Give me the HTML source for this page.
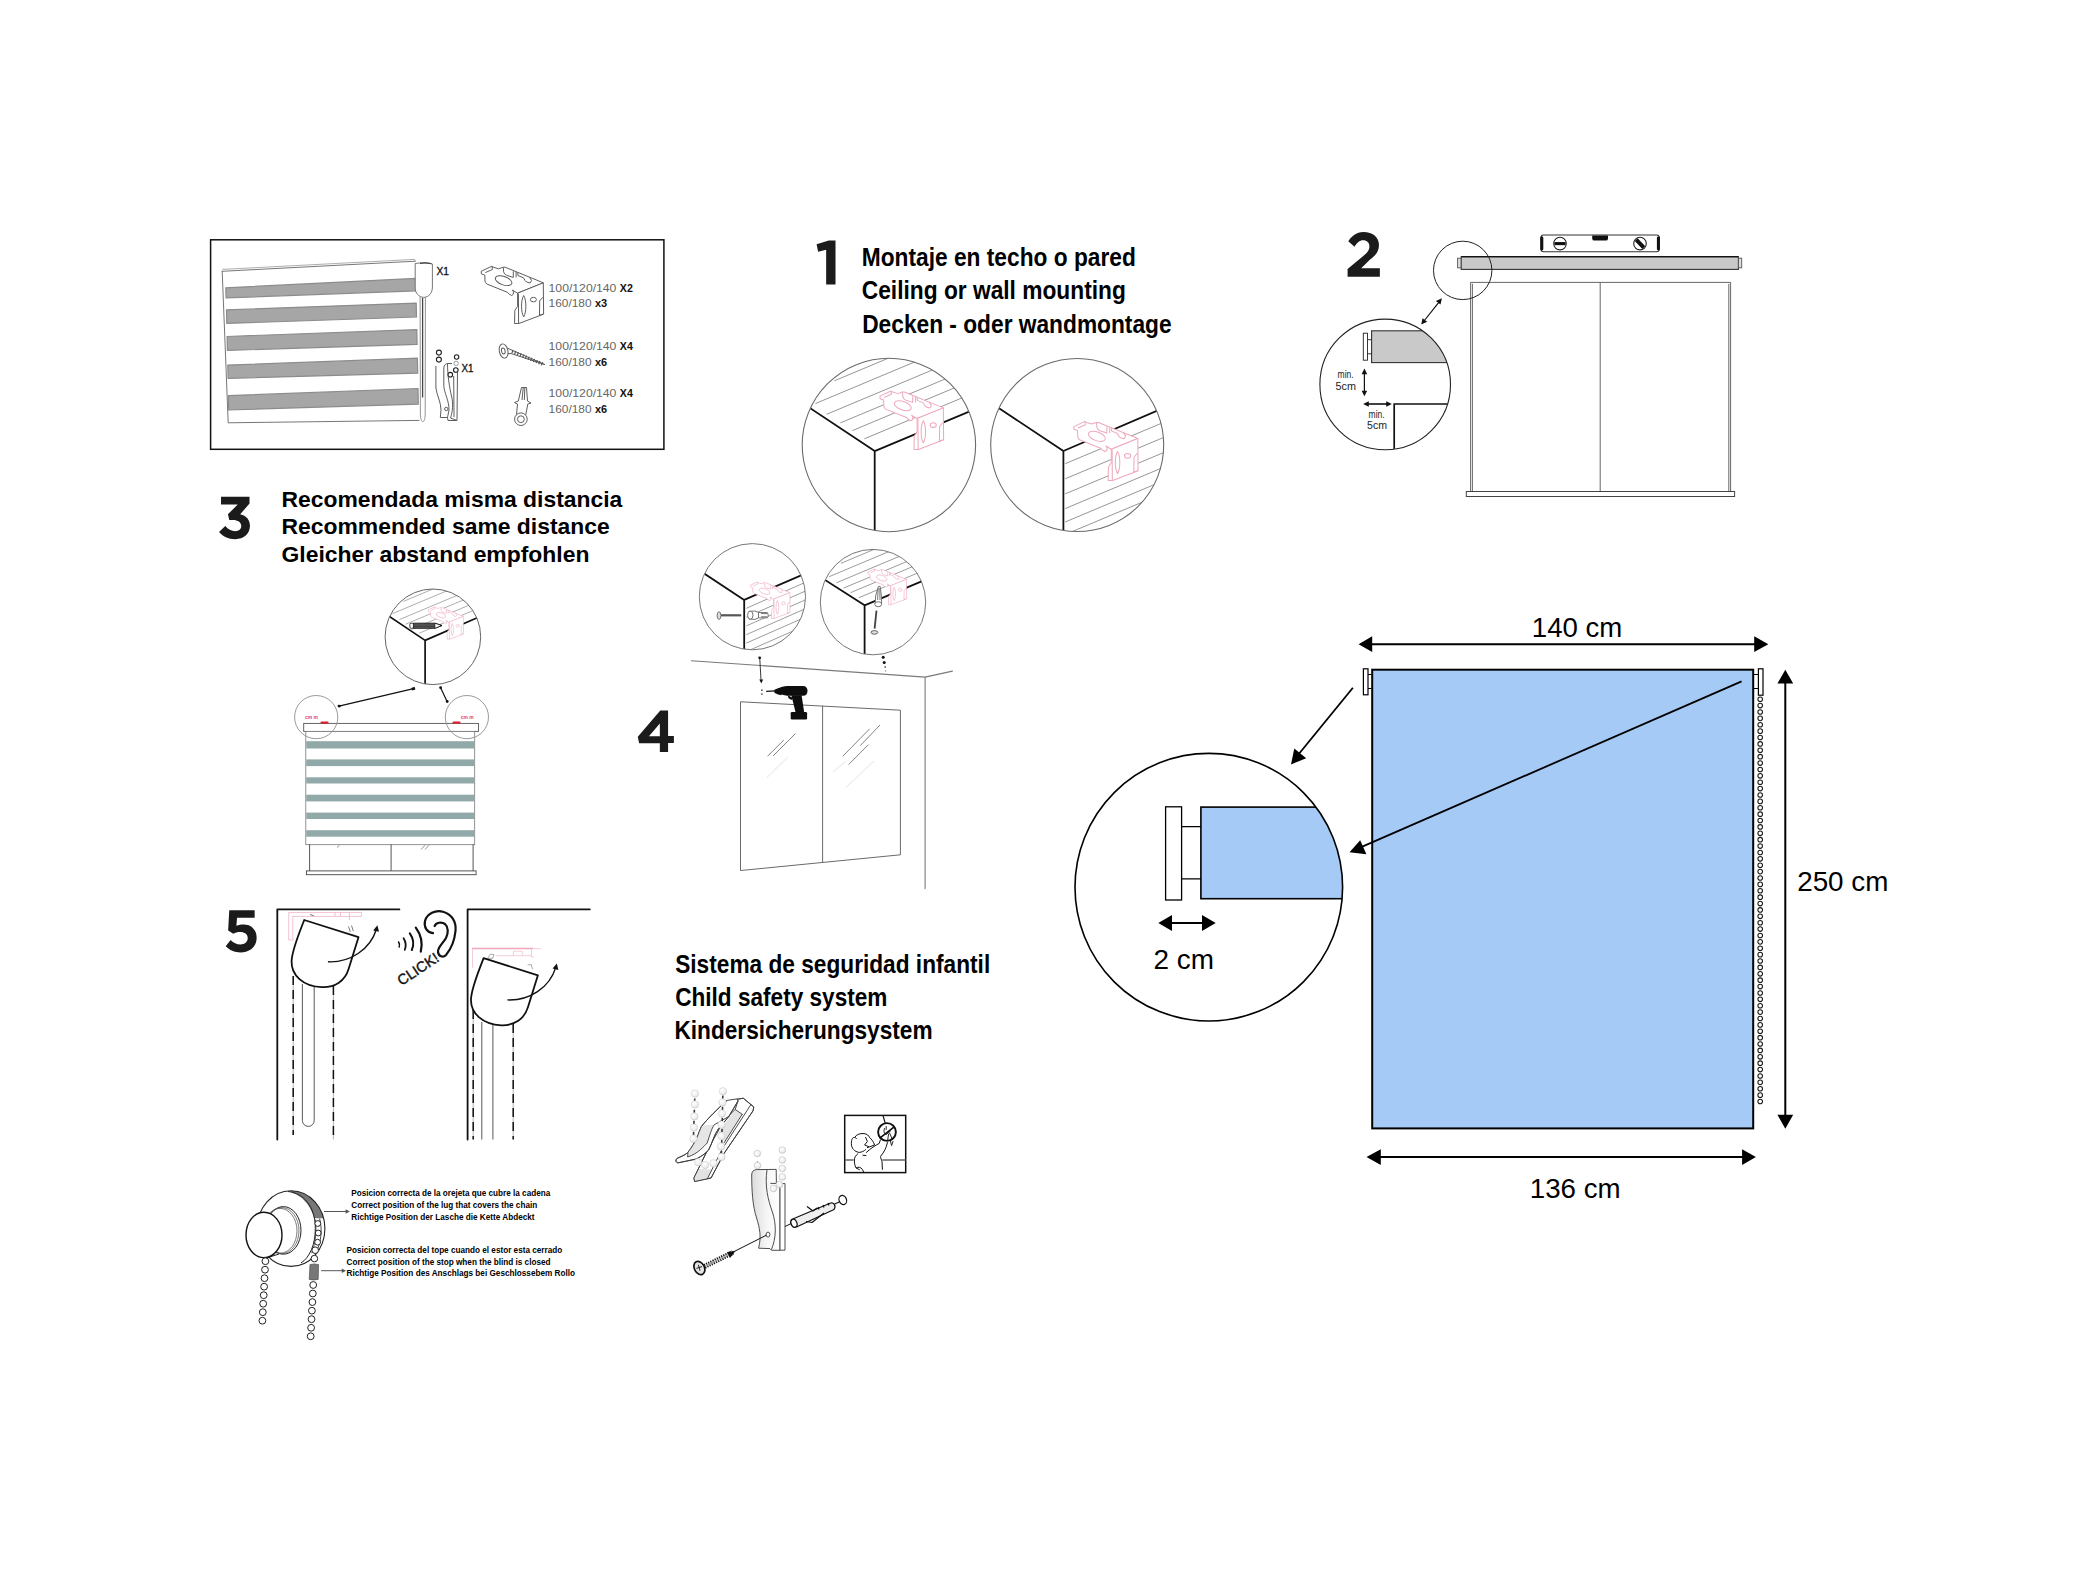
<!DOCTYPE html>
<html><head><meta charset="utf-8"><title>Montaje</title>
<style>
html,body{margin:0;padding:0;background:#fff;}
body{width:2096px;height:1572px;overflow:hidden;font-family:"Liberation Sans",sans-serif;}
svg{display:block}
text{font-family:"Liberation Sans",sans-serif;fill:#000}
.b{font-weight:bold}
.k{fill:none;stroke:#111;stroke-width:1.8;stroke-linecap:round;stroke-linejoin:round}
.ln{fill:none;stroke:#333;stroke-width:1.1;stroke-linecap:round;stroke-linejoin:round}
.lt{fill:none;stroke:#666;stroke-width:0.9;stroke-linecap:round;stroke-linejoin:round}
.h{fill:none;stroke:#8a8a8a;stroke-width:0.9}
.pk{fill:#fff;stroke:#eea9bc;stroke-width:1;stroke-linejoin:round}
.pkn{fill:none;stroke:#eea9bc;stroke-width:1;stroke-linejoin:round}
.gy{fill:#fff;stroke:#555;stroke-width:0.95;stroke-linejoin:round}
.gyn{fill:none;stroke:#555;stroke-width:0.95;stroke-linejoin:round}
.dg{fill:#1b1b1b}
</style></head><body>
<svg width="2096" height="1572" viewBox="0 0 2096 1572">
<rect width="2096" height="1572" fill="#fff"/>

<defs>
<g id="bkP"><path class="pk" d="M-36.4,-21.9L-25.7,-27L-24.7,-26.2L-19.1,-24.4L-14.5,-26L-12.5,-26L25.7,-10.4L0,0L-5.3,-3.1L-4.1,-1.5L-4.3,1L-5.9,2.3L-8.4,1L-10.4,-1L-30.8,-9.2Q-32.4,-10.4 -32.6,-12.2L-32.8,-18.1L-36.2,-19.3Z"/><path class="pk" d="M0,0L25.7,-10.4L26,20.9L1.3,30.3L-3.05,30.3L-2.8,17.3L0,13.2Z"/><path class="pkn" d="M0.8,0.5L1,30 M25.2,4.1L22.1,7.6L21.9,22.1L25.9,20.8 M-32.3,-20.6L-25.2,-23.7L-25.5,-26.6"/><ellipse class="pkn" cx="-14" cy="-12.5" rx="8.7" ry="4.2" transform="rotate(20 -14 -12.5)"/><path class="pkn" d="M-14.3,-25.7L-14,-21.4Q-13.5,-19 -10.9,-17.8L-4.3,-15.8L-4.3,-21.9 M-1.5,-21.4L-1.5,-15.8 M0.25,-20.6L0.25,-17.8L5.9,-15.3Q7.5,-12 8.9,-11.2L12.5,-10.2L14,-12.7L12,-15.8"/><path class="pkn" d="M6.1,2.3C3.2,7 3.2,19 6.1,23.7C9,19 9,7 6.1,2.3Z"/><ellipse class="pkn" cx="15.8" cy="6.4" rx="3" ry="2.3"/></g>
<g id="bkG"><path class="gy" d="M-36.4,-21.9L-25.7,-27L-24.7,-26.2L-19.1,-24.4L-14.5,-26L-12.5,-26L25.7,-10.4L0,0L-5.3,-3.1L-4.1,-1.5L-4.3,1L-5.9,2.3L-8.4,1L-10.4,-1L-30.8,-9.2Q-32.4,-10.4 -32.6,-12.2L-32.8,-18.1L-36.2,-19.3Z"/><path class="gy" d="M0,0L25.7,-10.4L26,20.9L1.3,30.3L-3.05,30.3L-2.8,17.3L0,13.2Z"/><path class="gyn" d="M0.8,0.5L1,30 M25.2,4.1L22.1,7.6L21.9,22.1L25.9,20.8 M-32.3,-20.6L-25.2,-23.7L-25.5,-26.6"/><ellipse class="gyn" cx="-14" cy="-12.5" rx="8.7" ry="4.2" transform="rotate(20 -14 -12.5)"/><path class="gyn" d="M-14.3,-25.7L-14,-21.4Q-13.5,-19 -10.9,-17.8L-4.3,-15.8L-4.3,-21.9 M-1.5,-21.4L-1.5,-15.8 M0.25,-20.6L0.25,-17.8L5.9,-15.3Q7.5,-12 8.9,-11.2L12.5,-10.2L14,-12.7L12,-15.8"/><path class="gyn" d="M6.1,2.3C3.2,7 3.2,19 6.1,23.7C9,19 9,7 6.1,2.3Z"/><ellipse class="gyn" cx="15.8" cy="6.4" rx="3" ry="2.3"/></g>
<clipPath id="cc"><circle cx="1208.8" cy="887.2" r="133.8"/></clipPath>
</defs>
<g id="measure">
<rect x="1372.2" y="669.7" width="381" height="458.7" fill="#a6caf6" stroke="#000" stroke-width="2"/>
<rect x="1363.4" y="668.8" width="4.6" height="26" fill="#fff" stroke="#000" stroke-width="1.2"/>
<path d="M1368 674.5H1371.5M1368 688.5H1371.5" stroke="#000" stroke-width="1.2" fill="none"/>
<rect x="1758.4" y="668.8" width="4.6" height="26.4" fill="#fff" stroke="#000" stroke-width="1.2"/>
<path d="M1754 674.5H1758.4M1754 688.5H1758.4" stroke="#000" stroke-width="1.2" fill="none"/>
<g fill="#fff" stroke="#1a1a1a" stroke-width="1.05">
<circle cx="1760.2" cy="699.20" r="2.3"/>
<circle cx="1760.2" cy="705.59" r="2.3"/>
<circle cx="1760.2" cy="711.97" r="2.3"/>
<circle cx="1760.2" cy="718.36" r="2.3"/>
<circle cx="1760.2" cy="724.74" r="2.3"/>
<circle cx="1760.2" cy="731.13" r="2.3"/>
<circle cx="1760.2" cy="737.52" r="2.3"/>
<circle cx="1760.2" cy="743.90" r="2.3"/>
<circle cx="1760.2" cy="750.29" r="2.3"/>
<circle cx="1760.2" cy="756.67" r="2.3"/>
<circle cx="1760.2" cy="763.06" r="2.3"/>
<circle cx="1760.2" cy="769.45" r="2.3"/>
<circle cx="1760.2" cy="775.83" r="2.3"/>
<circle cx="1760.2" cy="782.22" r="2.3"/>
<circle cx="1760.2" cy="788.60" r="2.3"/>
<circle cx="1760.2" cy="794.99" r="2.3"/>
<circle cx="1760.2" cy="801.38" r="2.3"/>
<circle cx="1760.2" cy="807.76" r="2.3"/>
<circle cx="1760.2" cy="814.15" r="2.3"/>
<circle cx="1760.2" cy="820.53" r="2.3"/>
<circle cx="1760.2" cy="826.92" r="2.3"/>
<circle cx="1760.2" cy="833.31" r="2.3"/>
<circle cx="1760.2" cy="839.69" r="2.3"/>
<circle cx="1760.2" cy="846.08" r="2.3"/>
<circle cx="1760.2" cy="852.46" r="2.3"/>
<circle cx="1760.2" cy="858.85" r="2.3"/>
<circle cx="1760.2" cy="865.24" r="2.3"/>
<circle cx="1760.2" cy="871.62" r="2.3"/>
<circle cx="1760.2" cy="878.01" r="2.3"/>
<circle cx="1760.2" cy="884.39" r="2.3"/>
<circle cx="1760.2" cy="890.78" r="2.3"/>
<circle cx="1760.2" cy="897.17" r="2.3"/>
<circle cx="1760.2" cy="903.55" r="2.3"/>
<circle cx="1760.2" cy="909.94" r="2.3"/>
<circle cx="1760.2" cy="916.32" r="2.3"/>
<circle cx="1760.2" cy="922.71" r="2.3"/>
<circle cx="1760.2" cy="929.10" r="2.3"/>
<circle cx="1760.2" cy="935.48" r="2.3"/>
<circle cx="1760.2" cy="941.87" r="2.3"/>
<circle cx="1760.2" cy="948.25" r="2.3"/>
<circle cx="1760.2" cy="954.64" r="2.3"/>
<circle cx="1760.2" cy="961.03" r="2.3"/>
<circle cx="1760.2" cy="967.41" r="2.3"/>
<circle cx="1760.2" cy="973.80" r="2.3"/>
<circle cx="1760.2" cy="980.18" r="2.3"/>
<circle cx="1760.2" cy="986.57" r="2.3"/>
<circle cx="1760.2" cy="992.96" r="2.3"/>
<circle cx="1760.2" cy="999.34" r="2.3"/>
<circle cx="1760.2" cy="1005.73" r="2.3"/>
<circle cx="1760.2" cy="1012.11" r="2.3"/>
<circle cx="1760.2" cy="1018.50" r="2.3"/>
<circle cx="1760.2" cy="1024.89" r="2.3"/>
<circle cx="1760.2" cy="1031.27" r="2.3"/>
<circle cx="1760.2" cy="1037.66" r="2.3"/>
<circle cx="1760.2" cy="1044.04" r="2.3"/>
<circle cx="1760.2" cy="1050.43" r="2.3"/>
<circle cx="1760.2" cy="1056.82" r="2.3"/>
<circle cx="1760.2" cy="1063.20" r="2.3"/>
<circle cx="1760.2" cy="1069.59" r="2.3"/>
<circle cx="1760.2" cy="1075.97" r="2.3"/>
<circle cx="1760.2" cy="1082.36" r="2.3"/>
<circle cx="1760.2" cy="1088.75" r="2.3"/>
<circle cx="1760.2" cy="1095.13" r="2.3"/>
<circle cx="1760.2" cy="1101.52" r="2.3"/>
</g>
<path d="M1371 644.2H1756" stroke="#000" stroke-width="2"/>
<path d="M1358.6 644.2L1372.2 636.3V652.1Z M1768.3 644.2L1754.2 636.3V652.1Z" fill="#000"/>
<path d="M1379 1157.1H1744" stroke="#000" stroke-width="2"/>
<path d="M1366.5 1157.1L1380.8 1149.2V1165Z M1755.9 1157.1L1742.1 1149.2V1165Z" fill="#000"/>
<path d="M1785.3 682V1116" stroke="#000" stroke-width="2"/>
<path d="M1785.3 669.7L1777.4 683.5H1793.2Z M1785.3 1128.7L1777.4 1114.8H1793.2Z" fill="#000"/>
<circle cx="1208.8" cy="887.2" r="133.8" fill="#fff"/>
<rect x="1200.9" y="807.1" width="200" height="91.6" fill="#a6caf6" stroke="#000" stroke-width="1.6" clip-path="url(#cc)"/>
<circle cx="1208.8" cy="887.2" r="133.8" fill="none" stroke="#000" stroke-width="1.6"/>
<rect x="1165.6" y="806.8" width="16" height="93.2" fill="#fff" stroke="#000" stroke-width="1.3"/>
<path d="M1181.6 826.6H1200.9M1181.6 878.8H1200.9" stroke="#000" stroke-width="1.3" fill="none"/>
<path d="M1170 923H1204" stroke="#000" stroke-width="2"/>
<path d="M1158.3 923L1172 915.1V930.9Z M1215.7 923L1202 915.1V930.9Z" fill="#000"/>
<text x="1153.6" y="968.8" font-size="27.9">2 cm</text>
<path d="M1352.9 687.8L1298 755" stroke="#000" stroke-width="1.8"/>
<path d="M1291 764.4L1294.3 748.6L1306.2 758.3Z" fill="#000"/>
<path d="M1741.6 681.4L1360 847.6" stroke="#000" stroke-width="1.8"/>
<path d="M1349.5 852.3L1360.2 840.2L1366.4 854.2Z" fill="#000"/>
<text x="1531.8" y="637" font-size="27.6">140 cm</text>
<text x="1797.2" y="891.4" font-size="27.8">250 cm</text>
<text x="1529.8" y="1198.4" font-size="27.7">136 cm</text>
</g>
<g class="b" font-size="25.4">
<text x="861.8" y="266" textLength="274" lengthAdjust="spacingAndGlyphs">Montaje en techo o pared</text>
<text x="861.8" y="299" textLength="264" lengthAdjust="spacingAndGlyphs">Ceiling or wall mounting</text>
<text x="862.2" y="332.8" textLength="309.4" lengthAdjust="spacingAndGlyphs">Decken - oder wandmontage</text>
</g>
<g class="b" font-size="21.2">
<text x="281.5" y="506.9" textLength="340.8" lengthAdjust="spacingAndGlyphs">Recomendada misma distancia</text>
<text x="281.5" y="534.4" textLength="328.2" lengthAdjust="spacingAndGlyphs">Recommended same distance</text>
<text x="281.5" y="561.5" textLength="307.9" lengthAdjust="spacingAndGlyphs">Gleicher abstand empfohlen</text>
</g>
<g class="b" font-size="25.4">
<text x="675.2" y="972.9" textLength="315" lengthAdjust="spacingAndGlyphs">Sistema de seguridad infantil</text>
<text x="675.2" y="1005.5" textLength="212.2" lengthAdjust="spacingAndGlyphs">Child safety system</text>
<text x="674.4" y="1038.5" textLength="258.2" lengthAdjust="spacingAndGlyphs">Kindersicherungsystem</text>
</g>
<g class="b" font-size="9.3">
<text x="351.3" y="1196.3" textLength="198.9" lengthAdjust="spacingAndGlyphs">Posicion correcta de la orejeta que cubre la cadena</text>
<text x="351.3" y="1208.1" textLength="185.9" lengthAdjust="spacingAndGlyphs">Correct position of the lug that covers the chain</text>
<text x="351.3" y="1219.7" textLength="183.2" lengthAdjust="spacingAndGlyphs">Richtige Position der Lasche die Kette Abdeckt</text>
<text x="346.5" y="1252.9" textLength="215.7" lengthAdjust="spacingAndGlyphs">Posicion correcta del tope cuando el estor esta cerrado</text>
<text x="346.5" y="1264.6" textLength="204" lengthAdjust="spacingAndGlyphs">Correct position of the stop when the blind is closed</text>
<text x="346.5" y="1276.4" textLength="228.5" lengthAdjust="spacingAndGlyphs">Richtige Position des Anschlags bei Geschlossebem Rollo</text>
</g>
<g class="dg">
<path transform="translate(795,228) scale(0.04452)" d="M485,365L760,280L910,280L910,1270L700,1270L700,490L520,535Z"/>
<path transform="translate(1330,220) scale(0.04452)" d="M410,480C470,380 590,270 750,270C960,270 1100,390 1100,560C1100,700 1030,790 900,890L700,1085L1120,1085L1120,1275L395,1275L395,1100L760,800C850,720 885,670 885,590C885,510 830,455 745,455C660,455 610,510 550,600Z"/>
<path transform="translate(205,480) scale(0.04452)" d="M360,375L1000,375L1000,530L790,770C930,800 1010,900 1010,1030C1010,1210 870,1330 680,1330C520,1330 400,1270 315,1170L455,1035C520,1110 590,1150 680,1150C760,1150 815,1105 815,1035C815,950 740,900 620,900L545,900L515,770L735,550L360,550Z"/>
<path transform="translate(620,695) scale(0.04452)" fill-rule="evenodd" d="M905,350L1080,350L1080,920L1210,920L1210,1080L1080,1080L1080,1280L895,1280L895,1085L430,1085L400,935ZM895,640L895,925L650,925Z"/>
<path transform="translate(205,895) scale(0.04452)" d="M545,340L1115,340L1115,510L720,510L705,690C760,670 810,660 870,660C1040,660 1160,780 1160,960C1160,1160 1010,1290 800,1290C660,1290 550,1235 465,1150L575,1010C640,1075 710,1110 795,1110C890,1110 960,1055 960,965C960,880 890,830 790,830C730,830 680,845 635,870L520,800Z"/>
</g>
<g id="parts">
<rect x="210.6" y="239.8" width="453.3" height="209.5" fill="none" stroke="#111" stroke-width="1.5"/>
<path class="lt" d="M222.2,271.3L415.4,261.2M222.2,271.3L228.2,422.8L419,420.4"/>
<path d="M222.4,269.4L414.5,259.4L415.4,261" stroke="#999" stroke-width="0.8" fill="none"/>
<path d="M225.8,287.8L415.6,278.3L415.9,290.8L226.1,297.9Z" fill="#a6a6a6" stroke="#8c8c8c" stroke-width="1.2"/>
<path d="M226.5,309.8L416.2,303.1L416.5,317.0L226.8,323.4Z" fill="#a6a6a6" stroke="#8c8c8c" stroke-width="1.2"/>
<path d="M227.1,336.5L416.8,329.6L417.1,344.4L227.4,350.4Z" fill="#a6a6a6" stroke="#8c8c8c" stroke-width="1.2"/>
<path d="M227.8,365.1L417.4,358.2L417.7,373.1L228.1,378.4Z" fill="#a6a6a6" stroke="#8c8c8c" stroke-width="1.2"/>
<path d="M228.4,395.6L418.0,388.5L418.3,404.1L228.7,410.0Z" fill="#a6a6a6" stroke="#8c8c8c" stroke-width="1.2"/>
<path class="gy" style="stroke:#777;stroke-width:0.8" d="M420.1,297L420.4,414C420.5,419 421.5,421.6 422.8,421.6C424.2,421.6 425.1,419 425.2,414L425.4,297.2"/>
<path d="M422.6,298V397.5" stroke="#444" stroke-width="1.3" fill="none"/>
<path class="gy" style="stroke:#666;stroke-width:0.9" d="M415.2,263.5C420,262.6 428,262.6 432.4,264L432.4,287C432.4,293 429,297 423.8,297.4C418.6,297 415.2,293 415.2,288Z"/>
<path d="M420,263.4C424,262.6 428,262.8 431.4,263.8" stroke="#444" stroke-width="1.1" fill="none"/>
<text x="436.6" y="275.4" font-size="11.8" textLength="12.4" lengthAdjust="spacingAndGlyphs" style="fill:#111;stroke:#111;stroke-width:0.35">X1</text>
<g class="gyn">
<g style="stroke:#222;stroke-width:1.1"><circle cx="438.9" cy="352.6" r="2.5"/><circle cx="438.9" cy="359.6" r="2.5"/>
<circle cx="456.6" cy="357" r="2.2"/><circle cx="455.8" cy="370" r="2.3"/><circle cx="450.3" cy="374.7" r="2.3"/></g><circle cx="456.1" cy="363.4" r="2.2" style="stroke:#999"/>
<path d="M435.9,366L435.9,388C437,396 441,402 441,410L440.3,417.5L447.5,417.5L449,410C449,400 444.5,394 443.8,386L443.8,368C444,365 446,363.5 447.5,363.5"/>
<path d="M447.5,363.5L452,363.5M447.5,363.5C447.5,375 449.5,388 451.5,396C453.5,404 452.5,412 450.5,418L457,420.5L457.5,371"/>
<path d="M453.7,376L454,417M447.5,417.5L448,420.5L456.5,420.5"/>
<circle cx="446.3" cy="409" r="1.7"/>
</g>
<text x="461.5" y="372" font-size="11.8" textLength="12" lengthAdjust="spacingAndGlyphs" style="fill:#111;stroke:#111;stroke-width:0.35">X1</text>
<use href="#bkG" transform="translate(517.6,293.2)"/>
<g class="gyn">
<ellipse cx="503.6" cy="351" rx="4.3" ry="7.2" transform="rotate(-12 503.6 351)"/>
<ellipse cx="503.3" cy="351" rx="1.8" ry="3" transform="rotate(-12 503.3 351)"/>
<path d="M507.5,348.2L512,350.2L545,364.6L511,353.5L507.8,353.8"/>
</g>
<path d="M512,351.3L543,364.2" stroke="#555" stroke-width="3.4" stroke-dasharray="1.2 1.7" fill="none"/>
<g class="gyn">
<circle cx="520.9" cy="419.2" r="6.3"/><circle cx="520.9" cy="419.2" r="3.4"/>
<path d="M516.5,414.5L517.5,404L514.5,402.5L518.3,401L521.5,387.5L526.5,387.5L527.5,401L531,403L527.8,404L525.8,414.8"/>
<path d="M523.2,388L522,400M524.8,388L524.3,400"/>
</g>
<text x="548.6" y="291.7" font-size="11.4" textLength="67.8" lengthAdjust="spacingAndGlyphs" style="fill:#666">100/120/140</text>
<text x="619.8" y="291.7" font-size="11.4" class="b" textLength="13" lengthAdjust="spacingAndGlyphs" style="fill:#111">X2</text>
<text x="548.6" y="307.4" font-size="11.4" textLength="43" lengthAdjust="spacingAndGlyphs" style="fill:#666">160/180</text>
<text x="595" y="307.4" font-size="11.4" class="b" textLength="12.2" lengthAdjust="spacingAndGlyphs" style="fill:#111">x3</text>
<text x="548.6" y="349.7" font-size="11.4" textLength="67.8" lengthAdjust="spacingAndGlyphs" style="fill:#666">100/120/140</text>
<text x="619.8" y="349.7" font-size="11.4" class="b" textLength="13" lengthAdjust="spacingAndGlyphs" style="fill:#111">X4</text>
<text x="548.6" y="366.0" font-size="11.4" textLength="43" lengthAdjust="spacingAndGlyphs" style="fill:#666">160/180</text>
<text x="595" y="366.0" font-size="11.4" class="b" textLength="12.2" lengthAdjust="spacingAndGlyphs" style="fill:#111">x6</text>
<text x="548.6" y="397.4" font-size="11.4" textLength="67.8" lengthAdjust="spacingAndGlyphs" style="fill:#666">100/120/140</text>
<text x="619.8" y="397.4" font-size="11.4" class="b" textLength="13" lengthAdjust="spacingAndGlyphs" style="fill:#111">X4</text>
<text x="548.6" y="413.4" font-size="11.4" textLength="43" lengthAdjust="spacingAndGlyphs" style="fill:#666">160/180</text>
<text x="595" y="413.4" font-size="11.4" class="b" textLength="12.2" lengthAdjust="spacingAndGlyphs" style="fill:#111">x6</text>
</g>
<g id="s1">
<clipPath id="c1"><circle cx="888.9" cy="445.0" r="86.7"/></clipPath>
<clipPath id="p1"><polygon points="874.7,451.1 474.7,184.8 474.7,-348.9 1274.7,-348.9 1274.7,283.8"/></clipPath>
<g clip-path="url(#p1)"><g clip-path="url(#c1)">
<path d="M864.4,438.8L1264.4,271.2M852.4,430.6L1252.4,263.0M840.4,422.9L1240.4,255.3M826.6,414.3L1226.6,246.7M815.5,403.5L1215.5,235.9M834.4,380.8L1234.4,213.2" stroke="#8a8a8a" stroke-width="0.90" fill="none"/>
</g></g>
<g clip-path="url(#c1)"><path d="M778.4,387.0L874.7,451.1L1013.4,393.1M874.7,451.1L874.7,560.0" stroke="#111" stroke-width="1.8" fill="none" stroke-linejoin="round"/></g>
<use href="#bkP" transform="translate(917.1,418.5) scale(1.02)"/>
<circle cx="888.9" cy="445.0" r="86.7" fill="none" stroke="#6a6a6a" stroke-width="1.1"/>
<clipPath id="c2"><circle cx="1077.2" cy="445.0" r="86.5"/></clipPath>
<clipPath id="p2"><polygon points="1063.4,451.0 1463.4,279.1 1463.4,851.0 1063.4,851.0"/></clipPath>
<g clip-path="url(#p2)"><g clip-path="url(#c2)">
<path d="M1065.2,463.7L1465.2,295.7M1065.2,478.8L1465.2,310.8M1065.2,493.9L1465.2,325.9M1065.2,508.6L1465.2,340.6M1065.2,522.0L1465.2,354.0M1065.2,534.5L1465.2,366.5" stroke="#8a8a8a" stroke-width="0.90" fill="none"/>
</g></g>
<g clip-path="url(#c2)"><path d="M967.0,387.0L1063.4,451.0L1203.0,391.0M1063.4,451.0L1063.4,560.0" stroke="#111" stroke-width="1.8" fill="none" stroke-linejoin="round"/></g>
<use href="#bkP" transform="translate(1111.3,449.2) scale(1.03)"/>
<circle cx="1077.2" cy="445.0" r="86.5" fill="none" stroke="#6a6a6a" stroke-width="1.1"/>
</g>
<g id="s2">
<rect x="1541" y="235" width="118.2" height="16.8" rx="2.5" fill="#fff" stroke="#333" stroke-width="1.1"/>
<rect x="1540.3" y="236.4" width="3" height="14" rx="1.4" fill="#111"/><rect x="1656.9" y="236.4" width="3" height="14" rx="1.4" fill="#111"/>
<path d="M1592.2,235.6H1608V238.4Q1608,240.6 1605.8,240.6H1594.4Q1592.2,240.6 1592.2,238.4Z" fill="#111"/>
<circle cx="1560" cy="243.6" r="6.3" fill="#fff" stroke="#222" stroke-width="1.1"/><path d="M1554.4,243.6H1565.6" stroke="#111" stroke-width="3.1"/>
<circle cx="1640" cy="243.6" r="6.3" fill="#fff" stroke="#222" stroke-width="1.1"/><path d="M1636.2,239.6L1643.8,247.6" stroke="#111" stroke-width="4"/>
<rect x="1461.2" y="256.8" width="277.2" height="12.6" fill="#c9c9c9" stroke="#333" stroke-width="1.1"/><path d="M1461.2,256.7H1738.4" stroke="#111" stroke-width="1.2"/>
<rect x="1457.6" y="258.2" width="3.4" height="9.6" fill="#ddd" stroke="#555" stroke-width="0.9"/>
<rect x="1738.5" y="258.2" width="3.2" height="9.6" fill="#ddd" stroke="#555" stroke-width="0.9"/>
<path class="lt" d="M1470.6,491.5V282.4H1730.6V491.5M1472.4,491.5V284.2M1728.8,491.5V284.2M1600.2,283V491.5" style="stroke:#555"/>
<rect x="1466.3" y="491.5" width="268.3" height="5" fill="#fff" stroke="#444" stroke-width="1"/>
<circle cx="1462.7" cy="270.4" r="29.2" fill="none" stroke="#222" stroke-width="1"/>
<clipPath id="s2c"><circle cx="1385.2" cy="384.2" r="65.4"/></clipPath>
<g clip-path="url(#s2c)"><rect x="1371.6" y="330.8" width="100" height="31.8" fill="#c9c9c9" stroke="#333" stroke-width="1.1"/>
<path d="M1394.2,460V404H1470" fill="none" stroke="#111" stroke-width="1.7"/></g>
<rect x="1363.3" y="333.2" width="4.2" height="27" fill="#fff" stroke="#222" stroke-width="0.9"/>
<path d="M1367.5,339.7H1371.6M1367.5,353.8H1371.6" stroke="#222" stroke-width="0.9"/>
<circle cx="1385.2" cy="384.4" r="65.3" fill="none" stroke="#222" stroke-width="1.1"/>
<path d="M1364.4,371.5V393.5" stroke="#111" stroke-width="1.2"/><path d="M1364.4,368.6L1361.6,374.2H1367.2ZM1364.4,396.3L1361.6,390.7H1367.2Z" fill="#111"/>
<path d="M1366,404H1389" stroke="#111" stroke-width="1.6"/><path d="M1363.1,404L1368.8,401.2V406.8ZM1391.9,404L1386.2,401.2V406.8Z" fill="#111"/>
<g font-size="10.6" style="fill:#222">
<text x="1337.6" y="378.4" textLength="16" lengthAdjust="spacingAndGlyphs" style="fill:#222">min.</text><text x="1335.6" y="390.4" font-size="11.5" textLength="20.4" lengthAdjust="spacingAndGlyphs" style="fill:#222">5cm</text>
<text x="1368.6" y="417.6" textLength="16" lengthAdjust="spacingAndGlyphs" style="fill:#222">min.</text><text x="1367" y="429" font-size="11.5" textLength="20" lengthAdjust="spacingAndGlyphs" style="fill:#222">5cm</text>
</g>
<path d="M1423.2,322L1440,300.8" stroke="#111" stroke-width="1.2"/><path d="M1421.2,324.6L1422.6,318.2L1427.2,321.8ZM1441.9,298.2L1440.5,304.6L1435.9,301Z" fill="#111"/>
</g>
<g id="s3">
<clipPath id="c3"><circle cx="432.9" cy="636.8" r="47.8"/></clipPath>
<clipPath id="p3"><polygon points="425.1,640.4 25.1,371.5 25.1,-159.6 825.1,-159.6 825.1,466.9"/></clipPath>
<g clip-path="url(#p3)"><g clip-path="url(#c3)">
<path d="M419.4,633.1L819.4,465.1M411.4,629.4L811.4,461.4M405.7,624.2L805.7,456.2M399.4,619.6L799.4,451.6M392.4,613.7L792.4,445.7M403.4,601.4L803.4,433.4" stroke="#999" stroke-width="0.80" fill="none"/>
</g></g>
<g clip-path="url(#c3)"><path d="M353.7,592.4L425.1,640.4L527.9,595.8M425.1,640.4L425.1,700.0" stroke="#111" stroke-width="1.7" fill="none" stroke-linejoin="round"/></g>
<use href="#bkP" transform="translate(448.9,622.2) scale(0.563)"/>
<path d="M413.4,623.2H434.8L442,625.5L434.8,628.3H413.4Z" fill="#666" stroke="#111" stroke-width="0.9" stroke-linejoin="round"/><path d="M434.8,623.2L442,625.5L434.8,628.3Z" fill="#fff" stroke="#111" stroke-width="0.8" stroke-linejoin="round"/><path d="M440.2,624.9L442.2,625.5L440.2,626.2Z" fill="#111"/><rect x="409.9" y="623.2" width="3.5" height="5.1" rx="1.2" fill="#fff" stroke="#111" stroke-width="0.8"/><path d="M414,625H434.5M414,626.6H434.5" stroke="#222" stroke-width="0.6"/>
<circle cx="432.9" cy="636.8" r="47.8" fill="none" stroke="#666" stroke-width="1.0"/>
<path d="M339,706.1L413.5,688.7" stroke="#111" stroke-width="1.2"/><ellipse cx="339.2" cy="706.1" rx="1.7" ry="1.3" fill="#111"/><path d="M411.2,688L414.6,686.8L415.4,689.6L412.2,690.4Z" fill="#111"/>
<path d="M440.6,687.7L447.2,701.7" stroke="#111" stroke-width="1.2"/><circle cx="440.6" cy="687.7" r="1.4" fill="#111"/><circle cx="447.2" cy="701.5" r="1.4" fill="#111"/>
<rect x="303.7" y="723.4" width="174.8" height="8" fill="#fff" stroke="#555" stroke-width="0.9"/>
<rect x="305.8" y="731.4" width="168.9" height="113.3" fill="#fff" stroke="#777" stroke-width="0.8"/>
<rect x="306.2" y="741.2" width="168.1" height="7.3" fill="#91a9a8"/>
<rect x="306.2" y="759.4" width="168.1" height="6.7" fill="#91a9a8"/>
<rect x="306.2" y="777.3" width="168.1" height="6.2" fill="#91a9a8"/>
<rect x="306.2" y="794.7" width="168.1" height="6.7" fill="#91a9a8"/>
<rect x="306.2" y="812.6" width="168.1" height="6.4" fill="#91a9a8"/>
<rect x="306.2" y="830.2" width="168.1" height="6.5" fill="#91a9a8"/>
<path class="lt" d="M309.6,844.7V870.9M473.1,844.7V870.9M391.1,844.7V870.9" style="stroke:#444"/>
<rect x="306.4" y="870.9" width="169.7" height="3.8" fill="#fff" stroke="#444" stroke-width="0.9"/>
<path d="M337,847.5L339.5,845.2M421,849.5L425,845.2M425,849.5L429,845.2" stroke="#666" stroke-width="0.7"/>
<circle cx="316.2" cy="717.1" r="21.6" fill="none" stroke="#8e8e8e" stroke-width="0.9"/>
<circle cx="466.9" cy="717.1" r="21.6" fill="none" stroke="#8e8e8e" stroke-width="0.9"/>
<rect x="320.5" y="721.4" width="8" height="2.4" rx="1" fill="#d8222a"/><rect x="452.5" y="721.4" width="8" height="2.4" rx="1" fill="#d8222a"/>
<text x="305" y="719.2" font-size="4.6" class="b" textLength="13" lengthAdjust="spacingAndGlyphs" style="fill:#e0406a">cm m</text><text x="460.8" y="719.2" font-size="4.6" class="b" textLength="13" lengthAdjust="spacingAndGlyphs" style="fill:#e0406a">cm m</text>
</g>
<g id="s4">
<clipPath id="c4"><circle cx="752.4" cy="596.7" r="53.1"/></clipPath>
<clipPath id="p4"><polygon points="744.2,599.9 1144.2,427.2 1144.2,999.9 744.2,999.9"/></clipPath>
<g clip-path="url(#p4)"><g clip-path="url(#c4)">
<path d="M746.3,608.3L1146.3,432.3M746.3,617.1L1146.3,441.1M746.3,625.9L1146.3,449.9M746.3,634.7L1146.3,458.7M746.3,643.1L1146.3,467.1M746.3,651.6L1146.3,475.6" stroke="#8a8a8a" stroke-width="0.85" fill="none"/>
</g></g>
<g clip-path="url(#c4)"><path d="M665.6,548.1L744.2,599.9L857.2,551.1M744.2,599.9L744.2,700.0" stroke="#111" stroke-width="1.8" fill="none" stroke-linejoin="round"/></g>
<use href="#bkP" transform="translate(773.5,599.2) scale(0.636)"/>
<path d="M721,615.3H741.2" stroke="#777" stroke-width="2.4"/><path d="M721,615.3H741.2" stroke="#444" stroke-width="0.8"/><ellipse cx="719" cy="615.6" rx="1.9" ry="3.8" fill="#ddd" stroke="#666" stroke-width="0.9"/>
<g class="gy" style="stroke:#666;stroke-width:0.9"><path d="M749,611.3L755,611L758.5,612.5L767.5,612.6Q769,615.2 767.5,617.8L758.5,617.9L755,619.4L749,619.1Z"/><ellipse cx="750.3" cy="615.2" rx="2.7" ry="4"/><path d="M758.5,612.5V617.9M761,613.6H767M761,616.8H767" style="fill:none"/></g>
<circle cx="752.4" cy="596.7" r="53.1" fill="none" stroke="#777" stroke-width="1.0"/>
<clipPath id="c5"><circle cx="873.0" cy="602.1" r="52.7"/></clipPath>
<clipPath id="p5"><polygon points="864.6,605.3 464.6,348.8 464.6,-194.7 1264.6,-194.7 1264.6,437.5"/></clipPath>
<g clip-path="url(#p5)"><g clip-path="url(#c5)">
<path d="M858.9,597.7L1258.9,429.7M850.5,592.7L1250.5,424.7M843.6,588.1L1243.6,420.1M836.4,582.8L1236.4,414.8M829.1,576.7L1229.1,408.7M841.0,563.3L1241.0,395.3" stroke="#8a8a8a" stroke-width="0.85" fill="none"/>
</g></g>
<g clip-path="url(#c5)"><path d="M786.0,554.9L864.6,605.3L977.6,557.9M864.6,605.3L864.6,700.0" stroke="#111" stroke-width="1.8" fill="none" stroke-linejoin="round"/></g>
<use href="#bkP" transform="translate(890.4,585.8) scale(0.623)"/>
<g class="gy" style="stroke:#666;stroke-width:0.9"><path d="M875.2,603.5L875.6,596L878.4,586.4L880.2,586.4L881.4,596L881.6,603.5Z"/><path d="M878.2,588L877.6,600M879.8,588L880,600" style="fill:none"/><ellipse cx="878.2" cy="604.2" rx="3.5" ry="2.5"/></g>
<path d="M876.5,610.6L874.6,628.6" stroke="#444" stroke-width="1.8"/><ellipse cx="874.4" cy="632.4" rx="3.4" ry="1.8" fill="#ddd" stroke="#555" stroke-width="0.9"/>
<circle cx="873.0" cy="602.1" r="52.7" fill="none" stroke="#777" stroke-width="1.0"/>
<path class="lt" d="M691.3,660.7L925.1,677.1L952.4,671.1M925.1,677.1V888.6" style="stroke:#7a7a7a;stroke-width:1.1"/>
<path class="lt" d="M740.9,701.8L900.4,710.2V854.8L740.9,870.5ZM822.6,706.1V862" style="stroke:#6a6a6a;stroke-width:1"/>
<path d="M767.5,756.3L783.8,740M773.1,755.9L795.4,733.6M842.7,756.3L869.7,728.8M860.3,745.6L880,725M848.7,764.5L868.4,744.7" stroke="#777" stroke-width="0.9" fill="none"/>
<path d="M766.6,777.8L788.1,756.8M845.7,787.7L874,761M833,772L846,761" stroke="#ececec" stroke-width="1.1" fill="none"/>
<circle cx="759.7" cy="657.8" r="1.4" fill="#111"/><path d="M759.8,659L761,680" stroke="#222" stroke-width="0.9"/><path d="M761.3,683.6L759.3,679.4H763.1Z" fill="#111"/>
<circle cx="761.9" cy="690.2" r="0.9" fill="#555"/><circle cx="761.9" cy="694.1" r="0.9" fill="#555"/>
<circle cx="883.2" cy="657.2" r="1.5" fill="#111"/><circle cx="884.2" cy="662.6" r="1.5" fill="#111"/><circle cx="885.2" cy="667" r="0.9" fill="#666"/><circle cx="885.6" cy="671" r="0.8" fill="#999"/>
<path d="M766.2,691.4L775.5,690.9" stroke="#111" stroke-width="1.2"/>
<g fill="#0d0d0d"><path d="M774.4,689.7L778,688.3L781.5,687.2L781.5,695.2L778,694.5L774.4,692.7Z"/><path d="M780.4,687.6C783,686.2 786,685.9 790,685.9L803,685.9C806,685.9 807.5,688 807.5,690.8C807.5,693.8 806,695.8 803,695.8L790,695.8C786,695.8 783,695 780.4,694Z"/><path d="M787.8,695.3L788.4,698L791.4,700L793.2,698Z"/><path d="M791.3,695.3L801.6,695.3L804.2,712.5L795.6,712.5Z"/><rect x="790.7" y="712" width="16.4" height="7.5" rx="1.3"/></g>
</g>
<g id="s5">
<path class="k" d="M399.4,909.4H277.3V1139.5"/>
<g fill="none" stroke="#eeb3c4" stroke-width="0.8"><path d="M288.7,940V912.6H361.5M292.8,940V916.4H361.5M288.7,940H292.8M335,912.6V916.4M340.5,912.6V916.4M349.5,912.6V920M361.5,912.6V916.4"/></g>
<path d="M293.2,976.0V1135.0" stroke="#b5b5b5" stroke-width="1" fill="none"/>
<path d="M293.2,976.0V1135.0" stroke="#111" stroke-width="1.5" stroke-dasharray="9 5" fill="none"/>
<path d="M333.4,986.0V1139.5" stroke="#b5b5b5" stroke-width="1" fill="none"/>
<path d="M333.4,986.0V1139.5" stroke="#111" stroke-width="1.5" stroke-dasharray="9 5" fill="none"/>
<path d="M302.4,984V1120.5A5.9,5.9 0 0 0 314.2,1120.5V986" stroke="#444" stroke-width="0.9" fill="none"/>
<g transform="translate(0.0,0.0)">
<path class="k" style="stroke-width:1.8;fill:#fff" d="M304.2,920L358.5,937.2L348.6,969C345,981 335,987.6 322,987.2C303,986.4 291,975 291.6,961C292,950 300,931 304.2,920Z"/>
<path class="k" style="stroke-width:1.4" d="M328.5,961.8C350,962.5 370,950 376.5,929"/><path d="M377.4,925.3L373.2,930.4L379,931.8Z" fill="#111"/>
</g>
<path d="M310,914.5l4,1.4M348.5,926.5l1.8,5.5M351.5,925.5l1.8,5.5" stroke="#444" stroke-width="0.7" fill="none"/>
<g fill="none" stroke="#111" stroke-linecap="round"><path d="M398.6,942C399.6,943.6 399.8,945.2 399.2,947" stroke-width="1.5"/><path d="M403.6,938.2C406,942 406.2,946 404.8,949.8" stroke-width="1.8"/><path d="M409.8,933.4C413.8,939 414,945 411.8,950" stroke-width="2"/><path d="M415.8,927.6C422,936 422.4,945 420.8,951.6" stroke-width="2.2"/></g>
<path class="k" style="stroke-width:2.2" d="M433,933.2C427,932.5 423.6,927 425,921C427,913.5 435.5,909.7 443,911.7C451.5,914 456.5,921.5 455.5,931C454.5,941 451,949 446,955C443,958 438.6,956.5 438,952C437.5,947 443,943.5 446,938C448.5,933 448.5,927 445,924C441.5,921.5 436,922.5 434.6,926"/>
<text transform="translate(401.6,986) rotate(-33.5)" font-size="14.6" textLength="46" lengthAdjust="spacingAndGlyphs" style="fill:#111;stroke:#111;stroke-width:0.4">CLICK!</text>
<path class="k" d="M589.8,909.4H467.6V1139.5"/>
<g fill="none" stroke="#f0a6bb"><path d="M472,948.6H533" stroke-width="1.5"/><path d="M533,948.6H541M472.5,949V968M495.6,955.7H531.5M513.4,955.7V951.2H522.3V955.7M531.5,949V957H534" stroke-width="0.8" stroke="#f3c0cf"/></g>
<path d="M487.5,958.5l3,-4.5l3.5,0.6l-1.2,3.6Z" fill="none" stroke="#888" stroke-width="0.7"/><path d="M527.6,965l3.6,-0.4l1.4,4.6" fill="none" stroke="#888" stroke-width="0.7"/>
<path d="M473.2,1010.0V1139.5" stroke="#b5b5b5" stroke-width="1" fill="none"/>
<path d="M473.2,1010.0V1139.5" stroke="#111" stroke-width="1.5" stroke-dasharray="9 5" fill="none"/>
<path d="M513.2,1024.0V1139.5" stroke="#b5b5b5" stroke-width="1" fill="none"/>
<path d="M513.2,1024.0V1139.5" stroke="#111" stroke-width="1.5" stroke-dasharray="9 5" fill="none"/>
<path d="M481.8,1022V1139.5M492.9,1025V1139.5" stroke="#444" stroke-width="0.9" fill="none"/>
<g transform="translate(179.4,38.1)">
<path class="k" style="stroke-width:1.8;fill:#fff" d="M304.2,920L358.5,937.2L348.6,969C345,981 335,987.6 322,987.2C303,986.4 291,975 291.6,961C292,950 300,931 304.2,920Z"/>
<path class="k" style="stroke-width:1.4" d="M328.5,961.8C350,962.5 370,950 376.5,929"/><path d="M377.4,925.3L373.2,930.4L379,931.8Z" fill="#111"/>
</g>
</g>
<g id="knob">
<clipPath id="kb"><polygon points="287,1180 335,1180 335,1218.2 300,1218.2"/></clipPath>
<ellipse cx="291" cy="1228.6" rx="33.9" ry="37.8" fill="#fff"/>
<ellipse cx="291" cy="1228.6" rx="33.9" ry="37.8" fill="#777" clip-path="url(#kb)"/>
<clipPath id="kb2"><rect x="286" y="1180" width="60" height="120"/></clipPath>
<ellipse cx="284.6" cy="1228.8" rx="30.8" ry="37" fill="#fff" clip-path="url(#kb2)"/>
<ellipse cx="291" cy="1228.6" rx="33.9" ry="37.8" fill="none" stroke="#222" stroke-width="1.1"/>
<path d="M288,1191.5C304,1193 314.6,1207 315.3,1226C316,1245 309,1258 301,1263" fill="none" stroke="#222" stroke-width="1"/>
<path d="M319.6,1218.5C322.4,1229 321.4,1242 316.4,1251.5" fill="none" stroke="#333" stroke-width="0.9"/>
<path d="M315.3,1219.5C316.8,1230 315.6,1244 311.6,1253" fill="none" stroke="#333" stroke-width="0.8"/>
<ellipse cx="283.4" cy="1230.4" rx="17.6" ry="23.8" fill="#fff" stroke="#222" stroke-width="1"/>
<ellipse cx="281.8" cy="1230.6" rx="17.2" ry="23" fill="none" stroke="#444" stroke-width="0.7"/>
<ellipse cx="280" cy="1230.8" rx="17" ry="22.4" fill="none" stroke="#444" stroke-width="0.7"/>
<path d="M257.5,1213.3L267.6,1212.5M268,1257.5L279,1254" stroke="#222" stroke-width="1" fill="none"/>
<ellipse cx="264" cy="1234.9" rx="18" ry="22.7" fill="#fff" stroke="#111" stroke-width="1.4"/>
<g fill="#fff" stroke="#222" stroke-width="1">
<circle cx="317.8" cy="1223.5" r="2.9"/>
<circle cx="318.2" cy="1233.0" r="2.9"/>
<circle cx="317.6" cy="1242.2" r="2.9"/>
<circle cx="315.2" cy="1250.2" r="3.3"/>
<circle cx="314.4" cy="1258.6" r="3.3"/>
<circle cx="265.4" cy="1261.2" r="3.4"/>
<circle cx="265.0" cy="1269.7" r="3.4"/>
<circle cx="264.5" cy="1278.2" r="3.4"/>
<circle cx="264.1" cy="1286.7" r="3.4"/>
<circle cx="263.7" cy="1295.2" r="3.4"/>
<circle cx="263.2" cy="1303.7" r="3.4"/>
<circle cx="262.8" cy="1312.2" r="3.4"/>
<circle cx="262.4" cy="1320.7" r="3.4"/>
<circle cx="313.2" cy="1285.0" r="3.4"/>
<circle cx="312.8" cy="1293.5" r="3.4"/>
<circle cx="312.4" cy="1302.1" r="3.4"/>
<circle cx="311.9" cy="1310.7" r="3.4"/>
<circle cx="311.5" cy="1319.2" r="3.4"/>
<circle cx="311.1" cy="1327.8" r="3.4"/>
<circle cx="310.7" cy="1336.3" r="3.4"/>
</g>
<path d="M310,1264.6Q314,1263.2 318.6,1264.6L318.2,1279.4Q314,1280.6 309.2,1279.4Z" fill="#777" stroke="#555" stroke-width="0.7"/>
<path d="M324,1211.5H347.5M321.2,1270.7H343.5" stroke="#555" stroke-width="1"/><path d="M349.8,1211.5L345.6,1209.2V1213.8ZM346,1270.7L341.8,1268.4V1273Z" fill="#555"/>
</g>
<g id="child">
<defs><linearGradient id="gsh" x1="0" y1="0" x2="1" y2="0"><stop offset="0" stop-color="#dcdcdc"/><stop offset="0.55" stop-color="#f6f6f6"/><stop offset="1" stop-color="#fff"/></linearGradient><radialGradient id="bd" cx="0.4" cy="0.35" r="0.7"><stop offset="0" stop-color="#fff"/><stop offset="0.7" stop-color="#eee"/><stop offset="1" stop-color="#cfcfcf"/></radialGradient></defs>
<rect x="844.7" y="1115.4" width="61" height="57.2" fill="#fff" stroke="#111" stroke-width="1.5"/>
<path d="M845,1160H853.6M882.4,1160H905.5" stroke="#666" stroke-width="1.4" fill="none"/>
<g class="ln" style="stroke:#111;stroke-width:1">
<path d="M883.1,1115.8L885.2,1123.1" style="stroke-width:1.2"/>
<circle cx="887" cy="1132" r="8.9" style="stroke-width:1.9"/><path d="M880.1,1137.8L893.9,1127.2" style="stroke-width:1.7"/>
<path d="M884.4,1128.5C883.4,1131 884,1133.6 886,1134.6L890.5,1131M886.2,1126.5V1129.5M888.6,1134L887.6,1140.6M889.6,1133L892.4,1139.6M890.4,1141L891.6,1145.6L893,1141.4" style="stroke-width:0.9"/>
<path d="M856.4,1138.4C853,1135.4 851.2,1139.4 851.4,1143.4C851.2,1148.4 854.6,1151.8 859.2,1152.4C861.8,1152.2 864,1151.2 865.6,1149.6M855,1137C856,1134.6 860,1133.2 864,1133.6C867,1134 869,1135.6 869.4,1137.4C871.6,1139 873.6,1142 874.6,1145L867.4,1147.6M865.6,1137.4L867.4,1141.4L864.6,1145L868.6,1146.6"/>
<path d="M866.4,1152.4C870.4,1148.4 875.6,1145.4 879.2,1143.4L880.4,1140M887.4,1142.6C886.4,1148 884,1152 880.6,1156.4C880.4,1158.4 881.6,1159.4 882,1161.4L882.4,1169.4M863,1155.2L866,1155.6"/>
<path d="M857.8,1153.8C855.6,1155.4 854.4,1157.6 854.4,1160C854.4,1163 854.6,1165.4 856.2,1168C858.4,1166.4 861,1167.4 862.2,1169.2L863.6,1171.8M856.2,1168L859.4,1169.6"/>
</g>
<g transform="translate(668,1080) scale(0.07)" stroke="#3a3a3a" stroke-width="13" fill="none" stroke-linejoin="round" stroke-linecap="round">
<path d="M990,275L1075,260L1225,385L1215,440L800,1050L615,1400L380,1450L370,1400L560,1010L700,760L870,450Z" fill="#fff"/>
<path d="M960,420L1060,490L810,880L700,780Z" fill="#e3e3e3" stroke="none"/>
<path d="M440,1270L370,1400L380,1450L560,1410L640,1280Z" fill="#e2e2e2" stroke="none"/>
<path d="M990,275L1075,260L1225,385L1215,440L800,1050L615,1400L380,1450L370,1400L560,1010"/>
<path d="M1185,350L775,985L565,1405M1000,300L960,420L1060,490M960,420L860,520M1060,490L800,900"/>
<path d="M840,295C720,400 560,560 480,660C430,760 420,860 280,1040C230,1080 170,1100 130,1120C95,1150 120,1195 160,1180L400,1130C500,1080 540,1040 580,1000C640,880 660,780 720,700L870,520L1000,300L990,275Z" fill="#fff"/>
<path d="M480,660C430,760 420,860 280,1040L290,1100C430,1050 500,960 560,900C600,780 620,700 660,640C600,640 540,640 480,660Z" fill="#e6e6e6" stroke="none"/>
<path d="M840,295C720,400 560,560 480,660C430,760 420,860 280,1040C230,1080 170,1100 130,1120C95,1150 120,1195 160,1180L400,1130C500,1080 540,1040 580,1000C640,880 660,780 720,700L870,520L1000,300"/>
<path d="M870,520L660,640C620,700 600,780 560,900C500,960 430,1050 280,1100L285,1040"/>
</g>
<path d="M694.9,1094L693.4,1139M722.9,1091L721.4,1157" stroke="#3a3a3a" stroke-width="1.6" stroke-dasharray="3.2 7.9" stroke-dashoffset="-4.6"/>
<g fill="url(#bd)" stroke="#c8c8c8" stroke-width="0.5">
<circle cx="694.9" cy="1093.6" r="3.7"/>
<circle cx="694.9" cy="1104.5" r="3.7"/>
<circle cx="694.4" cy="1116.4" r="3.7"/>
<circle cx="693.9" cy="1127.6" r="3.7"/>
<circle cx="693.5" cy="1138.8" r="3.7"/>
<circle cx="722.9" cy="1091.2" r="3.7"/>
<circle cx="722.5" cy="1102.4" r="3.7"/>
<circle cx="722.0" cy="1113.6" r="3.7"/>
<circle cx="721.5" cy="1124.8" r="3.7"/>
<circle cx="721.5" cy="1136.0" r="3.7"/>
<circle cx="721.0" cy="1146.5" r="3.7"/>
<circle cx="721.5" cy="1157.0" r="3.7"/>
<circle cx="713.5" cy="1163.3" r="3.7"/>
<circle cx="705.1" cy="1165.0" r="3.7"/>
<circle cx="698.1" cy="1162.2" r="3.7"/>
</g>
<g class="gy" style="stroke:#444;fill:url(#gsh)">
<path d="M779.8,1183.6H785V1250.2H779.8Z" style="fill:#fff"/>
<path d="M751.7,1175C751.7,1171.5 753.5,1169.8 756.5,1169.6L776.2,1169.4L776.4,1183.4L779.8,1183.4L779.8,1250.3L771.5,1250.3L770,1248.6L758.6,1248.2C761.6,1236 759.6,1228 756.6,1218C752.6,1206 751.7,1190 751.7,1175Z"/>
<path d="M767,1169.6C764.6,1186 768,1200 772.4,1212C776.4,1224 776.4,1238 771.4,1249.6M770.4,1183.4H779.8" style="fill:none"/>
<ellipse cx="768" cy="1234.6" rx="1.9" ry="2.5" style="fill:#fff"/>
</g>
<path d="M757.4,1153V1167M782.4,1150V1182" stroke="#777" stroke-width="0.9" stroke-dasharray="2.2 6"/>
<g fill="url(#bd)" stroke="#bdbdbd" stroke-width="0.6">
<circle cx="757.3" cy="1153.5" r="3.3"/>
<circle cx="757.5" cy="1165.5" r="3.3"/>
<circle cx="782.3" cy="1150.0" r="3.3"/>
<circle cx="782.3" cy="1160.0" r="3.3"/>
<circle cx="782.3" cy="1168.5" r="3.3"/>
<circle cx="782.3" cy="1177.0" r="3.3"/>
<circle cx="779.5" cy="1184.5" r="3.3"/>
<circle cx="773.5" cy="1188.5" r="3.3"/>
</g>
<path d="M732,1252.6L766.4,1235.2M785,1226.5L791,1223.6" stroke="#111" stroke-width="1"/>
<path d="M704.5,1266.4L733,1252.4" stroke="#111" stroke-width="5" stroke-dasharray="1.3 1.1"/>
<path d="M704.5,1266.4L732,1252.9" stroke="#aaa" stroke-width="1.6"/>
<path d="M727,1252L735.5,1251L730,1258Z" fill="#111"/>
<ellipse cx="699.4" cy="1268" rx="5" ry="7" transform="rotate(-28 699.4 1268)" fill="#e4e4e4" stroke="#111" stroke-width="1.7"/>
<path d="M696.4,1268.4L702,1266.6M698.4,1264.8L700,1270.8" stroke="#111" stroke-width="0.9"/>
<g class="gy" style="stroke:#111;stroke-width:1.2;fill:#eee"><path d="M791.5,1219.5L830,1203.2C834,1202 836.5,1206 834,1209.5L797,1226.8C792,1228 789.5,1223 791.5,1219.5Z"/><ellipse cx="794" cy="1223.3" rx="2.9" ry="4.1" transform="rotate(-20 794 1223.3)" style="fill:#fff"/>
<path d="M807,1206.5L813,1211L817,1208M806,1221.5L812,1222.5L824,1213M818,1207l1,2.5M823,1205l1,2.5M828,1203l1,2.5" style="fill:none"/>
<ellipse cx="842.8" cy="1200" rx="3.7" ry="4.7" transform="rotate(-20 842.8 1200)" style="fill:#fff"/><path d="M834.5,1204L839.3,1202" style="fill:none"/></g>
</g>
</svg>
</body></html>
